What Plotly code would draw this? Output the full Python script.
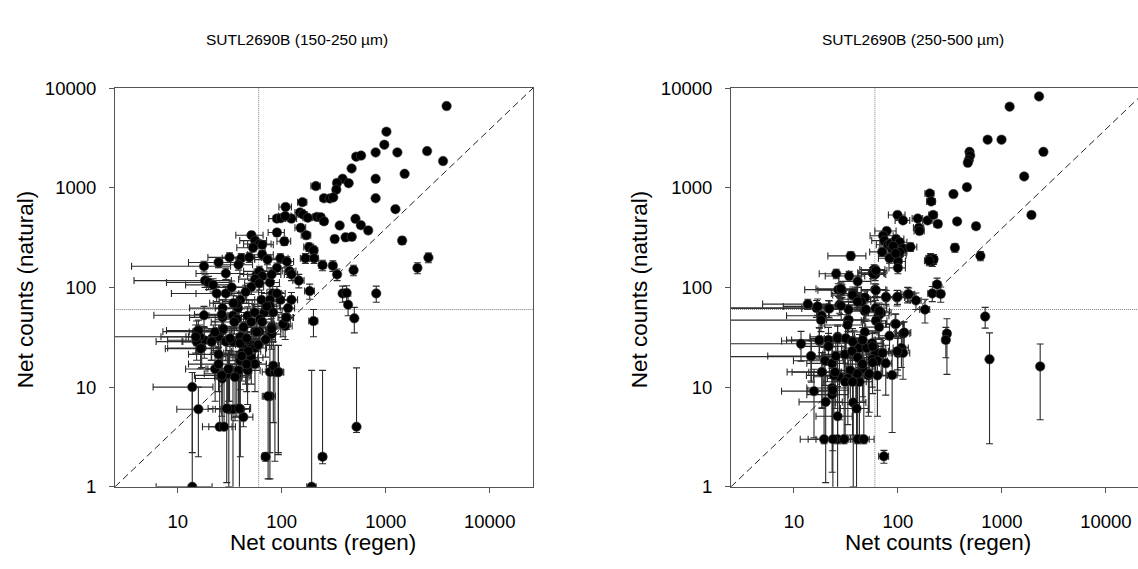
import plotly.graph_objects as go

# ---------------- data: left panel (150-250 um) ----------------
L_x = [3850, 1016, 970, 800, 1295, 2500, 3560, 520, 580, 470, 1520, 385, 340, 440, 800, 335, 213, 255, 290, 313,
       800, 158, 109, 1240, 150, 160, 90, 98, 124, 108, 178, 218, 237, 255, 361, 512, 577, 679, 411, 472,
       323, 152, 172, 90, 106, 1439, 183, 202, 310, 247, 169, 205, 341, 491, 2018, 2574, 186, 119, 124, 146,
       385, 421, 811, 435, 499, 202, 524, 247, 194,
       51.2, 55.5, 61, 65, 53, 31.5, 24.7, 40.8, 38.4, 48.8, 29, 17.9, 18.3, 19.8, 21.9, 23.7, 29, 17.9,
       57.6, 61, 65, 55.5, 51, 61, 77, 82, 64, 97, 124, 115, 90, 77, 77, 68, 83, 112, 108, 80, 80, 47, 38,
       40, 37, 27, 27, 34, 55, 51, 22, 18, 15.2, 16.3, 15.2, 21, 24.7, 27, 29, 34, 40, 43.6, 51, 55.5, 47,
       55.5, 61, 17, 24.7, 22.9, 24.7, 31.5, 37, 38.4, 41.7, 45, 40, 51, 59.6, 26.8, 30, 47, 77, 86, 93, 83,
       77, 13.8, 13.8, 15.8, 25.3, 27.9, 42.8, 31, 34, 40, 70, 74,
       15.8, 14.9, 16.6, 21.2, 22.9, 26.5, 34.3, 36.9, 27.5, 31.8, 39.7, 46, 47.8, 41.2, 55.3, 46, 57.5, 61.9,
       71.7, 80, 103, 110, 30.7, 35.6, 26.5, 29.6, 39.2, 92.7, 35, 43, 65, 70, 33, 45, 65, 73, 97, 112, 90, 80]
L_y = [6600, 3650, 2700, 2260, 2260, 2330, 1850, 2050, 2100, 1560, 1380, 1230, 1117, 1110, 1230, 957, 1040, 784, 780, 800,
       784, 717, 641, 610, 565, 540, 490, 495, 490, 520, 500, 510, 505, 460, 418, 488, 421, 373, 318, 322,
       306, 396, 334, 355, 290, 295, 254, 236, 165, 167, 196, 196, 135, 149, 157, 199, 92, 146, 135, 117,
       87, 88, 87, 67, 49, 46, 4.0, 2.0, 1.0,
       334, 295, 273, 268, 250, 200, 178, 196, 169, 200, 138, 163, 117, 112, 106, 87, 87, 52.5,
       135, 145, 130, 121, 101, 110, 112, 87, 75, 75, 75, 62, 87, 75, 65, 56, 56, 50, 41, 40, 34, 52, 62,
       75, 69, 62, 50, 52, 56, 45, 32, 29.5, 36, 32, 28.6, 28.6, 32, 37, 28.6, 28.6, 32, 25.6, 26.6, 24.7, 29.6,
       36, 36, 24.7, 21.3, 15.2, 17, 15.2, 13.1, 14.7, 22, 19.7, 18.4, 19.7, 26.6, 12.2, 13.6, 14.7, 14.2, 14.2, 14.2, 16.4,
       8.1, 10, 1.0, 6, 4, 4, 5, 6, 6, 6, 2.0, 8.1,
       37, 31.9, 24.3, 28.6, 35.7, 53.6, 69.5, 48, 38.4, 30.8, 27.5, 30.8, 22.9, 20.5, 17, 17, 35.7, 48,
       64.5, 38.4, 43, 49.8, 15.2, 12.6, 13.1, 6.1, 6.1, 14.1, 45, 40, 45, 30, 100, 90, 213, 190, 196, 182, 157, 135]
L_ex = [150, 40, 40, 35, 50, 90, 120, 30, 30, 28, 60, 25, 25, 25, 35, 22, 22, 20, 20, 20,
        35, 16, 15, 50, 16, 16, 15, 15, 15, 15, 18, 20, 20, 20, 22, 28, 30, 32, 24, 25,
        22, 18, 18, 16, 16, 60, 20, 20, 22, 20, 18, 20, 22, 25, 80, 100, 20, 18, 18, 18,
        25, 25, 35, 25, 26, 20, 25, 20, 20,
        15, 16, 18, 18, 16, 12, 12, 14, 14, 15, 14, 14.3, 14.5, 12, 10, 15, 14, 12,
        18, 18, 18, 17, 16, 17, 18, 18, 18, 18, 18, 18, 18, 18, 18, 18, 18, 18, 18, 18, 18, 16, 15,
        15, 15, 14, 14, 14, 16, 16, 10, 10, 8, 16.5, 9, 10, 12, 12, 12, 13, 14, 14, 15, 16, 15,
        16, 17, 9, 12, 11, 12, 12, 13, 13, 14, 14, 14, 15, 17, 12, 12, 15, 12, 10, 10, 12,
        10, 8, 7.6, 6, 8, 8, 10, 8, 8, 9, 6, 9,
        8, 8, 9, 10, 10, 12, 14, 14, 12, 12, 14, 15, 15, 14, 16, 15, 16, 17,
        18, 18, 18, 18, 12, 13, 12, 10, 11, 12, 14, 15, 17, 17, 14, 15, 18, 18, 18, 18, 18, 18]
L_eyu = [250, 150, 120, 100, 100, 100, 90, 90, 90, 80, 70, 60, 55, 55, 60, 50, 50, 45, 45, 45,
         45, 40, 40, 35, 35, 35, 35, 35, 35, 35, 35, 35, 35, 32, 30, 32, 30, 28, 25, 25,
         25, 30, 28, 28, 26, 25, 25, 24, 20, 20, 22, 22, 18, 18, 20, 22, 16, 20, 18, 18,
         16, 16, 16, 15, 14, 14, 11.6, 12.7, 13.7,
         25, 24, 23, 23, 22, 22, 20, 22, 20, 22, 18, 20, 17, 17, 16, 15, 15, 12,
         18, 18, 18, 17, 16, 16, 16, 15, 14, 14, 14, 13, 15, 14, 13, 12, 12, 12, 11, 11, 10, 12, 13,
         14, 13, 13, 12, 12, 12, 11, 10, 10, 10, 10, 10, 10, 10, 10, 10, 10, 10, 9, 9, 9, 10,
         10, 10, 9, 9, 8, 8, 8, 8, 8, 9, 9, 9, 9, 9, 8, 8, 8, 12, 12, 12, 12,
         7, 4, 9, 4, 8, 8, 1, 10, 10, 10, 0.2, 7,
         10, 10, 9, 10, 10, 12, 13, 11, 10, 10, 9, 10, 9, 9, 8, 8, 10, 11,
         13, 10, 11, 12, 8, 8, 8, 6, 6, 12, 11, 11, 11, 10, 16, 15, 22, 21, 21, 21, 19, 18]
L_eyd = [250, 150, 120, 100, 100, 100, 90, 90, 90, 80, 70, 60, 55, 55, 60, 50, 50, 45, 45, 45,
         45, 40, 40, 35, 35, 35, 35, 35, 35, 35, 35, 35, 35, 32, 30, 32, 30, 28, 25, 25,
         25, 30, 28, 28, 26, 25, 25, 24, 20, 20, 22, 22, 18, 18, 20, 22, 16, 20, 18, 18,
         16, 16, 16, 15, 14, 14, 0.5, 0.3, 0.3,
         25, 24, 23, 23, 22, 22, 20, 22, 20, 22, 18, 20, 17, 17, 16, 15, 15, 12,
         18, 18, 18, 17, 16, 16, 16, 15, 14, 14, 14, 13, 15, 14, 13, 12, 12, 12, 11, 11, 10, 12, 13,
         14, 13, 13, 12, 12, 12, 11, 10, 10, 10, 10, 10, 10, 10, 10, 10, 10, 10, 9, 9, 9, 10,
         10, 10, 9, 9, 8, 8, 8, 8, 8, 9, 9, 9, 9, 9, 8, 8, 8, 12, 12.4, 12, 12,
         6.9, 7.8, 0, 4, 0.3, 0.3, 1, 5, 6.5, 4, 0.2, 6.9,
         10, 10, 9, 10, 10, 12, 13, 11, 10, 10, 9, 10, 9, 9, 8, 8, 10, 11,
         13, 10, 11, 12, 8, 8, 8, 5, 6.1, 12, 11, 11, 11, 10, 16, 15, 22, 21, 21, 21, 19, 18]

# ---------------- data: right panel (250-500 um) ----------------
R_x = [2275, 1186, 729, 991, 488, 495, 480, 470, 2507, 1637, 461, 342, 202, 209, 1922, 99, 112, 155, 193, 218,
       242, 371, 564, 159, 161, 353, 621, 206, 214, 220, 200, 35.2, 238, 214, 258, 124, 98, 149, 182, 690,
       296, 289, 760, 2333, 73.3,
       78, 72, 74, 80, 87, 85, 96, 104, 112, 132, 102, 100, 100, 70.5, 83, 104, 59, 60.4, 57, 90, 95,
       25.5, 34, 41, 26.7, 29, 36.9, 40.6, 48.2, 44.5, 60.4, 76.9, 13.6, 16.5, 21.5, 27.4, 18.5, 18.2, 33,
       33.5, 48, 61, 69, 65, 11.7, 14.7, 17.6, 21.5, 26.3, 31.4, 37.8, 42.7, 50, 48, 56.6, 69, 61, 56.6,
       63.5, 83, 94, 100, 108, 112, 112, 76.4, 88, 19.9, 23.3, 25.3, 30.9, 36.3, 41, 46, 39.4, 34.9, 18.6,
       27.4, 24.2, 33, 42.7, 52, 63.5, 15.6, 23.3, 23.3, 20.2, 37.2, 40, 26.3, 19.5, 26.3, 30.4, 41, 47, 23.7,
       58, 61.4, 28.3, 36.6, 61.4, 76.7, 99, 127, 16.9, 21.9, 28.3, 40.9, 49.2, 66, 33.6, 32.8, 61.4, 66,
       95.5, 115, 14.6, 17.5, 21.5, 26.3, 31.6, 36.6, 45.7, 57.1, 71.3, 99, 24.9, 31.1, 36.6, 40.9, 45.7,
       53, 57.1, 23.6, 18.6]
R_y = [8250, 6510, 3035, 3035, 2290, 2100, 1890, 1780, 2290, 1297, 1014, 863, 875, 728, 533, 533, 470, 491, 470, 533,
       433, 459, 411, 396, 368, 250, 207, 196, 182, 192, 185, 207, 107, 87, 86, 85, 79, 74, 60, 51,
       34.4, 29.7, 19, 16.1, 2.02,
       368, 330, 295, 268, 245, 275, 306, 284, 245, 254, 211, 182, 157, 227, 196, 227, 151, 135, 140, 260, 220,
       137, 130, 115, 95, 93.5, 87, 76, 79, 72, 95, 79, 68, 62, 62, 67, 52, 47, 47,
       60, 57.8, 62, 55.6, 52, 27.2, 20.2, 29, 29.7, 32, 30.8, 27.6, 24.7, 24.7, 35.7, 27.6, 22, 22, 19,
       18.3, 32.7, 43, 22, 24.7, 22, 34.4, 17.3, 13.2, 18.4, 17.3, 20.5, 21.3, 22.9, 19.8, 15.2, 13.6, 14.7, 14.2,
       12.7, 13.1, 12.2, 11.3, 13.1, 13.1, 9.1, 9.8, 8.4, 7.1, 7.0, 6.1, 5.1, 3.0, 3.0, 3.0, 3.0, 3.0, 3.0,
       137, 148, 97, 83.7, 93.5, 80.6, 80.6, 85.5, 64.5, 61.3, 65.5, 72, 60, 57.7, 47.2, 42, 46.2, 40,
       43, 35.2, 20.5, 29.6, 25.6, 30.8, 30.8, 28.6, 29.6, 25.6, 22, 22.9, 14.1, 11.3, 11.3, 13.6, 17,
       13.6, 17.6, 9.3, 14.1]
R_ex = [90, 50, 35, 45, 28, 28, 28, 28, 90, 65, 26, 24, 20, 20, 75, 18, 18, 18, 20, 20,
        20, 24, 30, 18, 18, 24, 30, 20, 20, 20, 20, 14, 20, 20, 20, 18, 18, 18, 20, 30,
        22, 22, 30, 90, 8,
        18, 18, 18, 18, 18, 18, 18, 18, 18, 20, 18, 18, 18, 17, 18, 18, 16, 16, 16, 18, 18,
        8, 14, 14, 14, 12, 14, 14, 15, 15, 16, 17, 8.6, 16.5, 21.5, 14, 10, 18.2, 14,
        14, 16, 17, 17, 17, 10, 14.7, 10, 12, 12, 13, 14, 14, 15, 15, 16, 17, 16, 16,
        16, 18, 18, 18, 18, 18, 18, 10, 10, 10, 10, 11, 12, 13, 14, 14, 13, 13, 10,
        12, 11, 12, 14, 15, 16, 8, 10, 10, 9, 12, 12, 10, 8, 10, 10, 12, 12, 10,
        16, 17, 12, 13, 17, 18, 18, 18, 9, 10, 12, 14, 15, 17, 13, 13, 17, 17,
        18, 18, 9, 9, 10, 12, 12, 13, 15, 16, 17, 18, 11, 12, 13, 14, 15,
        16, 16, 10, 9]
R_eyu = [300, 250, 120, 120, 100, 95, 90, 85, 100, 65, 50, 45, 45, 40, 35, 35, 32, 32, 32, 35,
         30, 32, 30, 30, 28, 24, 22, 22, 20, 22, 20, 20, 17, 15, 15, 15, 14, 14, 16, 12,
         14, 10, 16, 11, 0.3,
         28, 27, 26, 25, 24, 25, 26, 25, 24, 24, 22, 20, 20, 22, 21, 22, 18, 18, 18, 25, 22,
         15, 15, 15, 14, 14, 14, 13, 13, 13, 14, 14, 8, 12, 12, 12, 11, 11, 11,
         12, 12, 12, 12, 12, 9, 9, 10, 10, 10, 10, 9, 9, 9, 10, 9, 9, 9, 9,
         9, 10, 11, 9, 9, 10, 10, 9, 9.7, 8, 8, 9, 9, 9, 9, 8, 8, 8, 8,
         8, 8, 8, 8, 8, 8, 6, 7, 7, 6, 6, 6, 5, 22, 26, 20, 28, 18, 10,
         15, 16, 14, 13, 14, 13, 13, 13, 12, 12, 12, 13, 12, 12, 11, 11, 11, 10,
         11, 10, 9, 10, 9, 10, 10, 10, 10, 9, 9, 8, 8, 8, 8, 8, 9,
         8, 9, 7, 8]
R_eyd = [300, 250, 120, 120, 100, 95, 90, 85, 100, 65, 50, 45, 45, 40, 35, 35, 32, 32, 32, 35,
         30, 32, 30, 30, 28, 24, 22, 22, 20, 22, 20, 20, 17, 15, 15, 15, 14, 14, 16, 12,
         21, 10, 16.3, 11.4, 0.3,
         28, 27, 26, 25, 24, 25, 26, 25, 24, 24, 22, 20, 20, 22, 21, 22, 18, 18, 18, 25, 22,
         15, 15, 15, 14, 14, 14, 13, 13, 13, 14, 14, 8, 12, 12, 12, 11, 11, 11,
         12, 12, 12, 12, 12, 9, 9, 10, 10, 10, 10, 9, 9, 9, 10, 9, 9, 9, 9,
         9, 10, 11, 9, 9, 10, 10, 9, 9.7, 8, 8, 9, 9, 9, 9, 8, 8, 8, 8,
         8, 8, 8, 8, 8, 8, 6, 7, 7, 6, 6, 6, 5, 0.3, 0.3, 0.3, 0.3, 0.3, 3,
         15, 16, 14, 13, 14, 13, 13, 13, 12, 12, 12, 13, 12, 12, 11, 11, 11, 10,
         11, 10, 9, 10, 9, 10, 10, 10, 10, 9, 9, 8, 8, 8, 8, 8, 9,
         8, 9, 7, 8]

Y_TICKS = [1, 10, 100, 1000, 10000]
X_TICKS = [10, 100, 1000, 10000]
THRESH = 60
TITLES = ["SUTL2690B (150-250 µm)", "SUTL2690B (250-500 µm)"]
X_TITLE = "Net counts (regen)"
Y_TITLE = "Net counts (natural)"

# The page's default body margin is removed (post_script), so the figure
# fills the whole window and window pixels map directly onto the figure.
W, H = 1138, 569
FONT = "Liberation Sans, Arial, sans-serif"

# plot-area geometry in window pixels
LEFT_PLOT = (115, 533)
RIGHT_PLOT = (731, 1138)   # right panel continues beyond the window
TOP, BOTTOM = 80, 494
DEC = 104.0                # px per decade on x
FULL_W = 418               # full plot width (both panels)
L_X0, R_X0 = 0.397, 0.395
L_XRANGE = [L_X0, L_X0 + (LEFT_PLOT[1] - LEFT_PLOT[0]) / DEC]
R_XRANGE = [R_X0, R_X0 + (RIGHT_PLOT[1] - RIGHT_PLOT[0]) / DEC]
L_DIAG_X = [10 ** L_X0, 10 ** (L_X0 + FULL_W / DEC)]
R_DIAG_X = [10 ** R_X0, 10 ** (R_X0 + FULL_W / DEC)]


def px(x):
    return x / W


def py(y):
    return 1 - y / H


fig = go.Figure()


def add_panel(xs, ys, ex, eyu, eyd, xa, ya, diag_x):
    fig.add_trace(go.Scatter(x=[THRESH, THRESH], y=[1, 10000], mode="lines",
                             line=dict(color="#808080", width=1, dash="1px,1px"),
                             xaxis=xa, yaxis=ya, showlegend=False, hoverinfo="skip"))
    fig.add_trace(go.Scatter(x=[1, 100000], y=[THRESH, THRESH], mode="lines",
                             line=dict(color="#808080", width=1, dash="1px,1px"),
                             xaxis=xa, yaxis=ya, showlegend=False, hoverinfo="skip"))
    fig.add_trace(go.Scatter(x=diag_x, y=[1, 10000], mode="lines",
                             line=dict(color="#222", width=1, dash="7px,4px"),
                             xaxis=xa, yaxis=ya, showlegend=False, hoverinfo="skip"))
    fig.add_trace(go.Scatter(
        x=xs, y=ys, mode="markers", xaxis=xa, yaxis=ya, showlegend=False,
        marker=dict(size=9.5, color="#000", line=dict(color="#444", width=0.6)),
        error_x=dict(type="data", array=ex, symmetric=True, color="#2a2a2a", thickness=1.1, width=3.5),
        error_y=dict(type="data", array=eyu, arrayminus=eyd, symmetric=False, color="#2a2a2a",
                     thickness=1.1, width=3.5),
    ))


add_panel(L_x, L_y, L_ex, L_eyu, L_eyd, "x", "y", L_DIAG_X)
add_panel(R_x, R_y, R_ex, R_eyu, R_eyd, "x2", "y2", R_DIAG_X)

ydom = [py(BOTTOM), py(TOP)]
axis_common = dict(type="log", showgrid=False, zeroline=False, ticks="outside", ticklen=5,
                   tickcolor="#555", linecolor="#555", linewidth=1, showline=True,
                   tickfont=dict(family=FONT, size=18.5, color="#000"))

fig.update_layout(
    width=W, height=H, margin=dict(l=0, r=0, t=0, b=0),
    paper_bgcolor="white", plot_bgcolor="white", hovermode=False,
    xaxis=dict(domain=[px(LEFT_PLOT[0]), px(LEFT_PLOT[1])], range=L_XRANGE, anchor="y",
               tickvals=X_TICKS, ticktext=[str(v) for v in X_TICKS], mirror=True,
               ticklabelstandoff=13, **axis_common),
    yaxis=dict(domain=ydom, range=[0, 4], anchor="x",
               tickvals=Y_TICKS, ticktext=[str(v) for v in Y_TICKS], mirror=True,
               ticklabelstandoff=9, **axis_common),
    xaxis2=dict(domain=[px(RIGHT_PLOT[0]), 1.0], range=R_XRANGE, anchor="y2",
                tickvals=X_TICKS, ticktext=[str(v) for v in X_TICKS], mirror=True,
                ticklabelstandoff=13, **axis_common),
    yaxis2=dict(domain=ydom, range=[0, 4], anchor="x2",
                tickvals=Y_TICKS, ticktext=[str(v) for v in Y_TICKS], mirror=False,
                ticklabelstandoff=9, **axis_common),
)


def ann(text, x, y, size, angle=0):
    fig.add_annotation(text=text, x=px(x), y=py(y), xref="paper", yref="paper",
                       showarrow=False, textangle=angle, xanchor="center", yanchor="middle",
                       borderpad=0, font=dict(family=FONT, size=size, color="#000"))


ann(TITLES[0], 297, 30, 15.5)
ann(TITLES[1], 913, 30, 15.5)
ann(X_TITLE, 323, 552, 22.5)
ann(X_TITLE, 938, 552, 22.5)
ann(Y_TITLE, 25, 289, 22.5, -90)
ann(Y_TITLE, 639, 289, 22.5, -90)

fig.write_html("out.html", config={"displayModeBar": False, "staticPlot": True},
               post_script="document.body.style.margin='0';document.body.style.overflow='hidden';")
